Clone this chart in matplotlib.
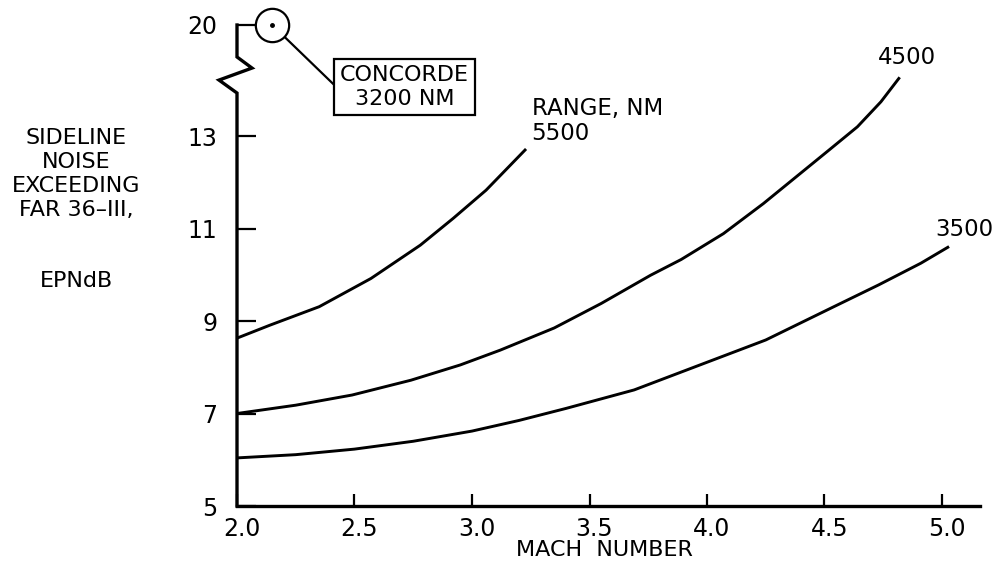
import matplotlib
matplotlib.use('Agg')
import matplotlib.pyplot as plt
import matplotlib.transforms as mtransforms

plt.rcParams['font.family'] = ['DejaVu Sans']

# curves: Mach number vs sideline noise over FAR 36-III (EPNdB)
mach_5500 = [2.0, 2.14, 2.35, 2.57, 2.78, 2.92, 3.06, 3.23]
noise_5500 = [8.63, 8.91, 9.31, 9.92, 10.64, 11.22, 11.83, 12.72]

mach_4500 = [2.0, 2.25, 2.49, 2.74, 2.95, 3.12, 3.35, 3.55, 3.76, 3.89,
             4.07, 4.24, 4.38, 4.52, 4.64, 4.74, 4.82]
noise_4500 = [7.0, 7.18, 7.40, 7.72, 8.05, 8.37, 8.85, 9.38, 9.99, 10.33,
              10.89, 11.54, 12.12, 12.70, 13.20, 13.74, 14.27]

mach_3500 = [2.0, 2.25, 2.5, 2.75, 3.0, 3.2, 3.4, 3.69, 3.97, 4.25,
             4.54, 4.73, 4.91, 5.03]
noise_3500 = [6.04, 6.11, 6.23, 6.40, 6.62, 6.85, 7.11, 7.51, 8.05, 8.59,
              9.31, 9.78, 10.25, 10.61]

curves = [('5500', mach_5500, noise_5500),
          ('4500', mach_4500, noise_4500),
          ('3500', mach_3500, noise_3500)]

concorde_mach = 2.15
concorde_noise = 20
concorde_label = 'CONCORDE\n3200 NM'

x_ticks = [2.0, 2.5, 3.0, 3.5, 4.0, 4.5, 5.0]
y_ticks = [5, 7, 9, 11, 13, 20]

BREAK_AT = 13
BREAK_SCALE = 0.343


def broken(v):
    # values above the axis break are squeezed
    return v if v <= BREAK_AT else BREAK_AT + (v - BREAK_AT) * BREAK_SCALE


fig = plt.figure(figsize=(10, 5.68), dpi=100)
ax = fig.add_axes([0.237, 1 - 506 / 568, 0.743, (506 - 25) / 568])
ax.set_xlim(2.0, 2.0 + 743 / 235)
ax.set_ylim(5, broken(20))

for name, m, n in curves:
    ax.plot(m, n, color='black', lw=2.1, solid_capstyle='butt', solid_joinstyle='round')

# curve labels
lbl_kw = dict(textcoords='offset points', fontsize=16.5)
ax.annotate('4500', xy=(mach_4500[-1], noise_4500[-1]), xytext=(5, 14),
            ha='center', va='center', **lbl_kw)
ax.annotate('3500', xy=(mach_3500[-1], noise_3500[-1]), xytext=(11, 12),
            ha='center', va='center', **lbl_kw)
ax.annotate('5500', xy=(mach_5500[-1], noise_5500[-1]), xytext=(4, 11),
            ha='left', va='center', **lbl_kw)
ax.annotate('RANGE, NM', xy=(mach_5500[-1], noise_5500[-1]), xytext=(4, 29.5),
            ha='left', va='center', **lbl_kw)

# concorde point
cy = broken(concorde_noise)
ax.plot(concorde_mach, cy, marker='o', ms=24, mfc='white', mec='black',
        mew=1.6, clip_on=False, zorder=5)
ax.plot(concorde_mach, cy, marker='o', ms=2.5, color='black', clip_on=False, zorder=6)
ax.annotate(concorde_label, xy=(concorde_mach, cy),
            xytext=(404.5 / 1000, 1 - 87 / 568), textcoords='figure fraction',
            ha='center', va='center', fontsize=16, linespacing=1.25,
            bbox=dict(boxstyle='square,pad=0.25', fc='white', ec='black', lw=1.6),
            arrowprops=dict(arrowstyle='-', lw=1.6, color='black',
                            relpos=(0, 0.42), shrinkA=0, shrinkB=12))

# axes: left spine drawn by hand with the break
for s in ['top', 'right', 'left']:
    ax.spines[s].set_visible(False)
ax.spines['bottom'].set_linewidth(2.4)
ax.spines['bottom'].set_capstyle('projecting')

px_x = 1 / 235.0
# zigzag from the bottom: axis, left, right, axis
spine_y = [5, 13.93, 14.21, 14.47, 14.71, broken(20)]
spine_x = [2.0, 2.0, 2.0 - 18 * px_x, 2.0 + 15 * px_x, 2.0, 2.0]
ax.plot(spine_x, spine_y, color='black', lw=2.4, clip_on=False,
        solid_joinstyle='miter', zorder=4)

ax.set_xticks(x_ticks)
ax.set_xticklabels(['%.1f' % v for v in x_ticks])
ax.set_yticks([broken(v) for v in y_ticks])
ax.set_yticklabels([str(v) for v in y_ticks])
ax.tick_params(axis='x', direction='in', length=9, width=1.6, pad=8, labelsize=17)
ax.tick_params(axis='y', direction='in', length=13.5, width=1.6, pad=14, labelsize=17)
shift = mtransforms.ScaledTranslation(5 / 100, 0, fig.dpi_scale_trans)
for lbl in ax.get_xticklabels():
    lbl.set_transform(lbl.get_transform() + shift)

fig.text(604 / 1000, 1 - 550 / 568, 'MACH  NUMBER', ha='center', va='center', fontsize=16)

ylab_lines = ['SIDELINE', 'NOISE', 'EXCEEDING', 'FAR 36\u2013III,', 'EPNdB']
ylab_y = [138, 162, 186, 210, 281]
for t, yy in zip(ylab_lines, ylab_y):
    fig.text(76 / 1000, 1 - yy / 568, t, ha='center', va='center', fontsize=16)

fig.savefig('out.png', dpi=100, facecolor='white')
